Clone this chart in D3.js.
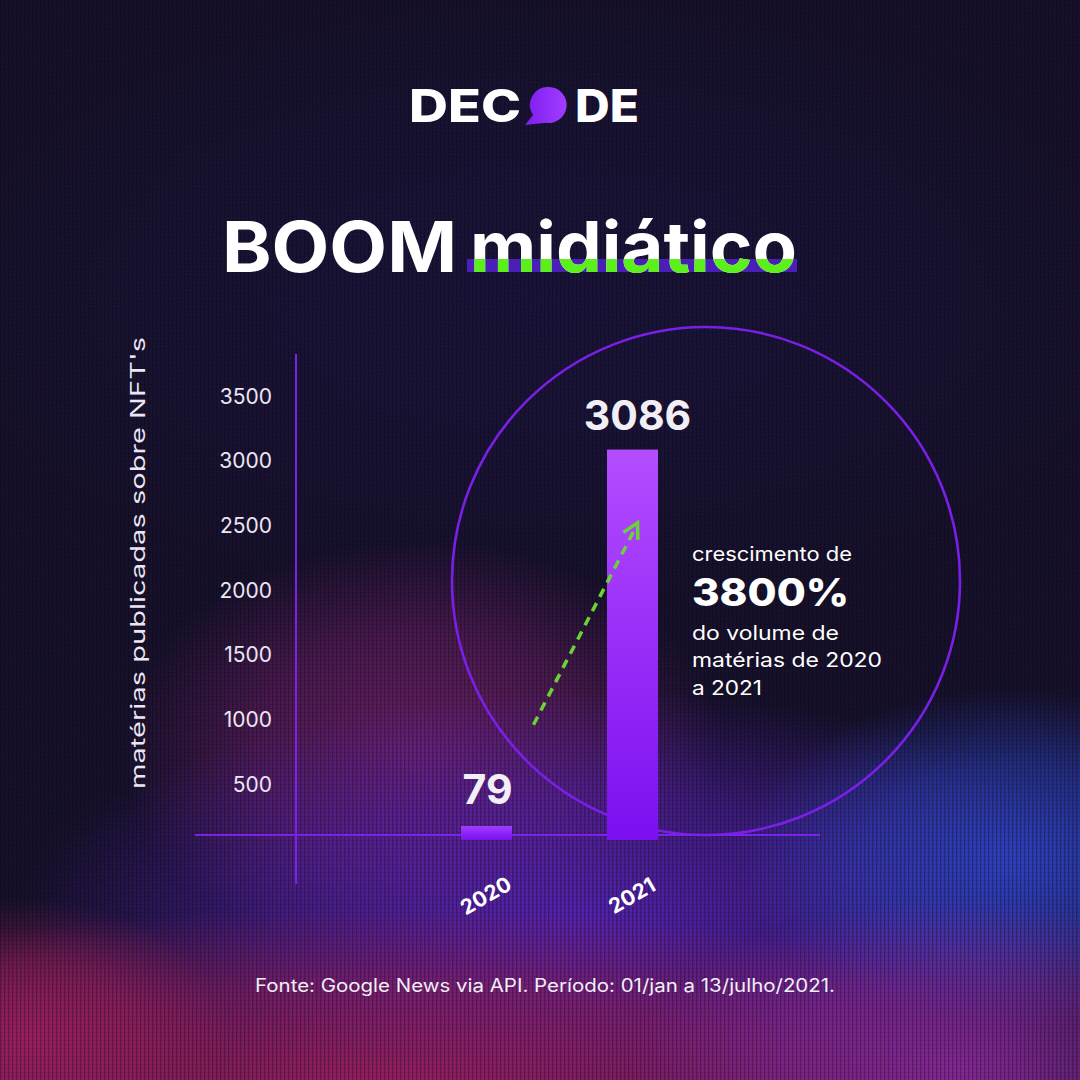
<!DOCTYPE html>
<html>
<head>
<meta charset="utf-8">
<script src="https://cdn.jsdelivr.net/npm/d3@7"></script>
<style>
  html, body { margin: 0; padding: 0; background: #131129; }
  svg { display: block; }
</style>
</head>
<body>
<script>
// ---- data ----
const years = ["2020", "2021"];
const values = [79, 3086];
const tickValues = [500, 1000, 1500, 2000, 2500, 3000, 3500];
const tickLabels = ["500", "1000", "1500", "2000", "2500", "3000", "3500"];
const yAxisTitle = "matérias publicadas sobre NFT's";
const growthLines = ["crescimento de", "3800%", "do volume de", "matérias de 2020", "a 2021"];
const sourceText = "Fonte: Google News via API. Período: 01/jan a 13/julho/2021.";

const W = 1080, H = 1080;
const FONT = "Inter, 'Noto Sans', sans-serif";

const svg = d3.select("body").append("svg").attr("width", W).attr("height", H);
const defs = svg.append("defs");

// ---- background ----
function radial(id, color, op) {
  const g = defs.append("radialGradient").attr("id", id);
  g.append("stop").attr("offset", "0%").attr("stop-color", color).attr("stop-opacity", op);
  g.append("stop").attr("offset", "55%").attr("stop-color", color).attr("stop-opacity", op * 0.6);
  g.append("stop").attr("offset", "100%").attr("stop-color", color).attr("stop-opacity", 0);
}
radial("gRed", "#6a1e62", 0.95);
radial("gPurple", "#5622b8", 0.9);
radial("gBlue", "#2a48d0", 0.85);
radial("gMag", "#9a1e5c", 0.95);
radial("gMag2", "#8e2aa0", 0.85);
radial("gNavy", "#191646", 0.45);

svg.append("rect").attr("width", W).attr("height", H).attr("fill", "#110f25");
const bg = svg.append("g");
bg.append("ellipse").attr("cx", 540).attr("cy", 300).attr("rx", 600).attr("ry", 300).attr("fill", "url(#gNavy)");
bg.append("ellipse").attr("cx", 420).attr("cy", 750).attr("rx", 300).attr("ry", 210).attr("fill", "url(#gRed)");
bg.append("ellipse").attr("cx", 580).attr("cy", 920).attr("rx", 560).attr("ry", 230).attr("fill", "url(#gPurple)");
bg.append("ellipse").attr("cx", 1010).attr("cy", 860).attr("rx", 270).attr("ry", 170).attr("fill", "url(#gBlue)");
bg.append("ellipse").attr("cx", 380).attr("cy", 1085).attr("rx", 700).attr("ry", 180).attr("fill", "url(#gMag)");
bg.append("ellipse").attr("cx", 960).attr("cy", 1070).attr("rx", 330).attr("ry", 170).attr("fill", "url(#gMag2)");
bg.append("ellipse").attr("cx", 30).attr("cy", 1040).attr("rx", 200).attr("ry", 140).attr("fill", "url(#gMag)");

// vertical scanline texture
const pat = defs.append("pattern").attr("id", "scan").attr("width", 4).attr("height", 4)
  .attr("patternUnits", "userSpaceOnUse");
pat.append("rect").attr("width", 1.3).attr("height", 4).attr("fill", "#000").attr("opacity", 0.28);
pat.append("rect").attr("y", 0).attr("width", 4).attr("height", 0.8).attr("fill", "#000").attr("opacity", 0.12);
svg.append("rect").attr("width", W).attr("height", H).attr("fill", "url(#scan)");

// noise
const nf = defs.append("filter").attr("id", "noise").attr("x", 0).attr("y", 0).attr("width", "100%").attr("height", "100%");
nf.append("feTurbulence").attr("type", "fractalNoise").attr("baseFrequency", 0.9).attr("numOctaves", 1).attr("seed", 3);
nf.append("feColorMatrix").attr("values", "0 0 0 0 0.55  0 0 0 0 0.1  0 0 0 0 0.9  0 0 0 0.2 0");
svg.append("rect").attr("width", W).attr("height", H).attr("filter", "url(#noise)").attr("opacity", 0.35);

// ---- logo ----
const bubGrad = defs.append("linearGradient").attr("id", "bub").attr("x1", 0).attr("x2", 1).attr("y1", 0).attr("y2", 0);
bubGrad.append("stop").attr("offset", "0%").attr("stop-color", "#7d1df0");
bubGrad.append("stop").attr("offset", "100%").attr("stop-color", "#a23cff");
const logo = svg.append("g");
logo.append("text").attr("x", 409).attr("y", 122).attr("font-family", FONT).attr("font-weight", 800)
  .attr("font-size", 45).attr("fill", "#fff").attr("textLength", 112).attr("lengthAdjust", "spacingAndGlyphs").text("DEC");
logo.append("text").attr("x", 575).attr("y", 122).attr("font-family", FONT).attr("font-weight", 800)
  .attr("font-size", 45).attr("fill", "#fff").attr("textLength", 64).attr("lengthAdjust", "spacingAndGlyphs").text("DE");
logo.append("path")
  .attr("d", "M549,87 A18,18 0 1 1 546,122.8 L525,125 L533,115 A18,18 0 0 1 549,87 Z")
  .attr("fill", "url(#bub)");

// ---- title ----
const titleY = 272;
svg.append("text").attr("x", 222).attr("y", titleY).attr("font-family", FONT).attr("font-weight", 700)
  .attr("font-size", 70).attr("fill", "#fff").attr("textLength", 235).attr("lengthAdjust", "spacingAndGlyphs").text("BOOM");
svg.append("rect").attr("x", 467).attr("y", 259).attr("width", 330).attr("height", 13).attr("fill", "#4a1fb8");
svg.append("text").attr("x", 470).attr("y", titleY).attr("font-family", FONT).attr("font-weight", 700)
  .attr("font-size", 70).attr("fill", "#fff").attr("textLength", 327).attr("lengthAdjust", "spacingAndGlyphs").text("midiático");
defs.append("clipPath").attr("id", "lowClip").append("rect").attr("x", 460).attr("y", 259).attr("width", 350).attr("height", 30);
svg.append("text").attr("x", 470).attr("y", titleY).attr("font-family", FONT).attr("font-weight", 700)
  .attr("font-size", 70).attr("fill", "#5cf01a").attr("clip-path", "url(#lowClip)")
  .attr("textLength", 327).attr("lengthAdjust", "spacingAndGlyphs").text("midiático");

// ---- scales ----
const y = d3.scaleLinear().domain([0, 3500]).range([849, 396]);
const x = d3.scalePoint().domain(years).range([486.5, 632.5]);
const barW = 51;
const baseY = 840;
const axisY = 835;
const purple = "#7b22e8";

// decorative circle
svg.append("circle").attr("cx", 706).attr("cy", 581).attr("r", 254)
  .attr("fill", "none").attr("stroke", "#7a1fe6").attr("stroke-width", 2.6);

// axes lines
svg.append("line").attr("x1", 296).attr("x2", 296).attr("y1", 354).attr("y2", 884)
  .attr("stroke", purple).attr("stroke-width", 2);
svg.append("line").attr("x1", 195).attr("x2", 820).attr("y1", axisY).attr("y2", axisY)
  .attr("stroke", purple).attr("stroke-width", 2.2);

// tick labels
svg.append("g").selectAll("text").data(tickValues).join("text")
  .attr("x", 272).attr("y", d => y(d)).attr("dy", "0.36em")
  .attr("text-anchor", "end").attr("font-family", FONT).attr("font-size", 21)
  .attr("fill", "#ece6f4").text((d, i) => tickLabels[i]);

// y-axis title
svg.append("text").attr("transform", "translate(145,563) rotate(-90)")
  .attr("text-anchor", "middle").attr("font-family", FONT).attr("font-size", 20)
  .attr("fill", "#ece6f4").attr("textLength", 452).attr("lengthAdjust", "spacingAndGlyphs").text(yAxisTitle);

// bars
const barGrad = defs.append("linearGradient").attr("id", "barG").attr("x1", 0).attr("x2", 0).attr("y1", 0).attr("y2", 1);
barGrad.append("stop").attr("offset", "0%").attr("stop-color", "#b44cff");
barGrad.append("stop").attr("offset", "100%").attr("stop-color", "#7c0ff0");
const barGrad2 = defs.append("linearGradient").attr("id", "barG2").attr("x1", 0).attr("x2", 0).attr("y1", 0).attr("y2", 1);
barGrad2.append("stop").attr("offset", "0%").attr("stop-color", "#a03cff");
barGrad2.append("stop").attr("offset", "100%").attr("stop-color", "#7c10f0");
const data = years.map((yr, i) => ({ yr, v: values[i] }));
const minBar = 14;
svg.append("g").selectAll("rect").data(data).join("rect")
  .attr("x", d => x(d.yr) - barW / 2)
  .attr("y", d => Math.min(y(d.v), baseY - minBar))
  .attr("width", barW)
  .attr("height", d => baseY - Math.min(y(d.v), baseY - minBar))
  .attr("fill", (d, i) => i === 0 ? "url(#barG2)" : "url(#barG)");

// value labels
svg.append("g").selectAll("text").data(data).join("text")
  .attr("x", (d, i) => x(d.yr) + (i === 1 ? 5 : 1))
  .attr("y", d => Math.min(y(d.v), baseY - minBar) - (d.v > 1000 ? 20 : 22))
  .attr("text-anchor", "middle").attr("font-family", FONT).attr("font-weight", 700)
  .attr("font-size", 41).attr("fill", "#f2eef6").text(d => d.v);

// year labels (rotated)
svg.append("g").selectAll("text").data(years).join("text")
  .attr("transform", d => `translate(${x(d) + 3},${902}) rotate(-30)`)
  .attr("text-anchor", "middle").attr("font-family", FONT).attr("font-weight", 700)
  .attr("font-size", 21).attr("fill", "#fff").text(d => d);

// arrow (dashed green)
const green = "#6ad437";
const ax1 = x("2020") + 47, ay1 = y(960);
const ax2 = x("2021") + 5, ay2 = y(2520);
svg.append("line").attr("x1", ax1).attr("y1", ay1).attr("x2", ax2 - 1).attr("y2", ay2 + 3)
  .attr("stroke", green).attr("stroke-width", 3.5).attr("stroke-dasharray", "9,7");
const ang = Math.atan2(ay2 - ay1, ax2 - ax1);
const hl = 17, spread = 0.5;
svg.append("path")
  .attr("d", `M${ax2 + hl * Math.cos(ang + Math.PI - spread)},${ay2 + hl * Math.sin(ang + Math.PI - spread)} L${ax2},${ay2} L${ax2 + hl * Math.cos(ang + Math.PI + spread)},${ay2 + hl * Math.sin(ang + Math.PI + spread)}`)
  .attr("fill", "none").attr("stroke", green).attr("stroke-width", 3.5).attr("stroke-linejoin", "miter");

// growth annotation
const ann = svg.append("g").attr("font-family", FONT).attr("fill", "#fff");
const annY = [561, 606, 640, 667, 695];
ann.selectAll("text").data(growthLines).join("text")
  .attr("x", 692).attr("y", (d, i) => annY[i])
  .attr("font-size", (d, i) => i === 1 ? 38 : 20)
  .attr("font-weight", (d, i) => i === 1 ? 800 : 400)
  .attr("textLength", (d, i) => [160, 157, 147, 190, 70][i])
  .attr("lengthAdjust", "spacingAndGlyphs")
  .text(d => d);

// source
svg.append("text").attr("x", 545).attr("y", 992).attr("text-anchor", "middle")
  .attr("font-family", FONT).attr("font-size", 18).attr("fill", "#f2eef6")
  .attr("textLength", 580).attr("lengthAdjust", "spacingAndGlyphs").text(sourceText);
</script>
</body>
</html>
